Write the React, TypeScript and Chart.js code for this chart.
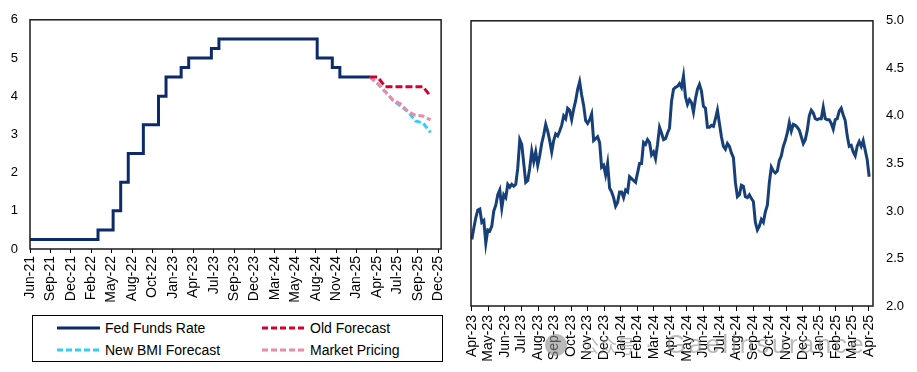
import React, { useEffect, useRef } from "react";
import { Chart, registerables } from "chart.js";

Chart.register(...registerables);

const FONT = '"Liberation Sans", Arial, Helvetica, sans-serif';

// ---------- Left chart data (x = months since Jun-21) ----------
const LEFT_TICK_LABELS = [
  "Jun-21", "Sep-21", "Dec-21", "Feb-22", "May-22", "Aug-22", "Oct-22",
  "Jan-23", "Apr-23", "Jul-23", "Sep-23", "Dec-23", "Mar-24", "May-24",
  "Aug-24", "Nov-24", "Jan-25", "Apr-25", "Jul-25", "Sep-25", "Dec-25",
];
const LEFT_SPAN_MONTHS = 54; // Jun-21 -> Dec-25

// Jun-21 .. Mar-25, monthly
const FED_FUNDS = [
  0.25, 0.25, 0.25, 0.25, 0.25, 0.25, 0.25, 0.25, 0.25,
  0.5, 0.5, 1.0, 1.75, 2.5, 2.5, 3.25, 3.25, 4.0, 4.5,
  4.5, 4.75, 5.0, 5.0, 5.0, 5.25,
  5.5, 5.5, 5.5, 5.5, 5.5, 5.5, 5.5, 5.5, 5.5, 5.5, 5.5, 5.5, 5.5,
  5.0, 5.0, 4.75, 4.5, 4.5, 4.5, 4.5, 4.5,
];
const FORECAST_START = 45; // Mar-25
const OLD_FORECAST = [4.5, 4.5, 4.25, 4.25, 4.25, 4.25, 4.25, 4.25, 4.0];
const NEW_BMI_FORECAST = [4.5, 4.33, 4.12, 3.9, 3.75, 3.6, 3.35, 3.3, 3.05];
const MARKET_PRICING = [4.5, 4.33, 4.12, 3.9, 3.8, 3.6, 3.5, 3.48, 3.38];

// ---------- Right chart data ----------
const RIGHT_TICK_LABELS = [
  "Apr-23", "May-23", "Jun-23", "Jul-23", "Aug-23", "Sep-23", "Oct-23",
  "Nov-23", "Dec-23", "Jan-24", "Feb-24", "Mar-24", "Apr-24", "May-24",
  "Jun-24", "Jul-24", "Aug-24", "Sep-24", "Oct-24", "Nov-24", "Dec-24",
  "Jan-25", "Feb-25", "Mar-25", "Apr-25",
];
const POINTS_PER_MONTH = 8.285;
const YIELDS_2023 = [
  2.70, 2.82, 2.93, 3.01, 3.02, 2.88, 2.90, 2.66, 2.80, 2.79,
  2.84, 3.00, 3.06, 3.17, 3.22, 3.03, 3.17, 3.14, 3.28, 3.25,
  3.28, 3.26, 3.28, 3.45, 3.75, 3.70, 3.50, 3.30, 3.32, 3.45,
  3.63, 3.52, 3.62, 3.48, 3.58, 3.71, 3.80, 3.91, 3.84, 3.74,
  3.62, 3.74, 3.81, 3.79, 3.84, 3.90, 4.00, 3.97, 4.08, 4.06,
  3.96, 4.07, 4.16, 4.28, 4.36, 4.22, 4.11, 3.95, 3.92, 3.96,
  4.02, 3.74, 3.76, 3.78, 3.72, 3.46, 3.48, 3.38, 3.50, 3.24,
  3.20, 3.14, 3.05, 3.09, 3.20,
];
const YIELDS_2024 = [
  3.20, 3.14, 3.22, 3.20, 3.36, 3.34, 3.32, 3.30, 3.40, 3.50,
  3.50, 3.72, 3.70, 3.75, 3.72, 3.59, 3.62, 3.55, 3.70, 3.88,
  3.82, 3.75, 3.76, 3.82, 3.87, 4.15, 4.28, 4.30, 4.31, 4.34,
  4.30, 4.42, 4.20, 4.12, 4.17, 4.14, 4.04, 4.18, 4.28, 4.33,
  4.26, 4.10, 4.08, 3.88, 3.88, 3.90, 3.89, 3.97, 4.06, 3.92,
  3.78, 3.68, 3.65, 3.71, 3.68, 3.61, 3.56, 3.30, 3.15, 3.17,
  3.27, 3.26, 3.15, 3.14, 3.17, 3.13, 3.10, 2.88, 2.80, 2.84,
  2.91, 2.88, 2.99, 3.06, 3.30, 3.46, 3.42, 3.40, 3.42, 3.53,
  3.58, 3.68, 3.74, 3.82, 3.93, 3.84, 3.91, 3.90, 3.88, 3.85,
  3.78, 3.71, 3.75, 3.85, 4.00, 4.06, 4.03, 3.97, 3.96, 3.97,
];
const YIELDS_2025 = [
  3.97, 4.09, 3.97, 3.96, 3.96, 3.92, 3.86, 3.96, 3.97, 4.05,
  4.08, 4.01, 3.95, 3.79, 3.68, 3.69, 3.62, 3.58, 3.68, 3.73,
  3.68, 3.74, 3.64, 3.54, 3.36,
];
const YIELDS = [...YIELDS_2023, ...YIELDS_2024, ...YIELDS_2025];

const FED_COLOR = "#0d2b6b";
const OLD_COLOR = "#d4002e";
const BMI_COLOR = "#33ccff";
const MKT_COLOR = "#ee8aa4";
const YIELD_COLOR = "#173f78";

const framePlugin = {
  id: "frame",
  afterDraw(chart: any) {
    const { ctx, chartArea: a } = chart;
    ctx.save();
    ctx.strokeStyle = "#1a1a1a";
    ctx.lineWidth = 1.5;
    ctx.strokeRect(a.left, a.top, a.right - a.left, a.bottom - a.top);
    ctx.restore();
  },
};

function LeftChart() {
  const ref = useRef<HTMLCanvasElement | null>(null);
  useEffect(() => {
    if (!ref.current) return;
    const fed = FED_FUNDS.map((v, i) => ({ x: i, y: v }));
    const mk = (arr: number[]) => arr.map((v, i) => ({ x: FORECAST_START + i, y: v }));
    const chart = new Chart(ref.current, {
      type: "line",
      data: {
        datasets: [
          { label: "Fed Funds Rate", data: fed, borderColor: FED_COLOR, borderWidth: 3, stepped: "before", pointRadius: 0, order: 3 },
          { label: "New BMI Forecast", data: mk(NEW_BMI_FORECAST), borderColor: BMI_COLOR, borderWidth: 3, borderDash: [6, 3], pointRadius: 0, order: 2 },
          { label: "Market Pricing", data: mk(MARKET_PRICING), borderColor: MKT_COLOR, borderWidth: 3, borderDash: [6, 3], pointRadius: 0, order: 1 },
          { label: "Old Forecast", data: mk(OLD_FORECAST), borderColor: OLD_COLOR, borderWidth: 3, borderDash: [7, 3], pointRadius: 0, order: 0 },
        ],
      },
      options: {
        responsive: false,
        animation: false,
        layout: { padding: { top: 16, right: 13, left: 0, bottom: 0 } },
        plugins: { legend: { display: false }, tooltip: { enabled: false } },
        scales: {
          x: {
            type: "linear",
            min: 0,
            max: LEFT_SPAN_MONTHS + 0.4,
            afterBuildTicks: (scale: any) => {
              scale.ticks = LEFT_TICK_LABELS.map((_, i) => ({ value: (i * LEFT_SPAN_MONTHS) / (LEFT_TICK_LABELS.length - 1) }));
            },
            afterFit: (scale: any) => { scale.height = 56; },
            grid: { display: true, drawOnChartArea: false, drawTicks: true, tickLength: 4, color: "#000", lineWidth: 1 },
            border: { display: false },
            ticks: {
              autoSkip: false,
              minRotation: 90,
              maxRotation: 90,
              padding: 3,
              color: "#000",
              font: { family: FONT, size: 14 },
              callback: (_v: any, i: number) => LEFT_TICK_LABELS[i],
            },
          },
          y: {
            min: 0,
            max: 6,
            afterFit: (scale: any) => { scale.width = 30; },
            grid: { display: false, drawTicks: false },
            border: { display: false },
            ticks: { stepSize: 1, padding: 12, color: "#000", font: { family: FONT, size: 13 } },
          },
        },
      },
      plugins: [framePlugin],
    } as any);
    return () => chart.destroy();
  }, []);
  return <canvas ref={ref} width={458} height={305} style={{ position: "absolute", left: 0, top: 0 }} />;
}

function RightChart() {
  const ref = useRef<HTMLCanvasElement | null>(null);
  useEffect(() => {
    if (!ref.current) return;
    const pts = YIELDS.map((v, i) => ({ x: i / POINTS_PER_MONTH, y: v }));
    const chart = new Chart(ref.current, {
      type: "line",
      data: {
        datasets: [
          { label: "2Y", data: pts, borderColor: YIELD_COLOR, borderWidth: 3, pointRadius: 0, tension: 0 },
        ],
      },
      options: {
        responsive: false,
        animation: false,
        layout: { padding: { top: 16, right: 0, left: 13, bottom: 0 } },
        plugins: { legend: { display: false }, tooltip: { enabled: false } },
        scales: {
          x: {
            type: "linear",
            min: -0.05,
            max: 24.25,
            afterBuildTicks: (scale: any) => {
              scale.ticks = RIGHT_TICK_LABELS.map((_, i) => ({ value: i }));
            },
            afterFit: (scale: any) => { scale.height = 66; },
            grid: { display: true, drawOnChartArea: false, drawTicks: true, tickLength: 5, color: "#000", lineWidth: 1 },
            border: { display: false },
            ticks: {
              autoSkip: false,
              minRotation: 90,
              maxRotation: 90,
              padding: 4,
              color: "#000",
              font: { family: FONT, size: 14 },
              callback: (_v: any, i: number) => RIGHT_TICK_LABELS[i],
            },
          },
          y: {
            position: "right",
            min: 2,
            max: 5,
            afterFit: (scale: any) => { scale.width = 44; },
            grid: { display: false, drawTicks: false },
            border: { display: false },
            ticks: {
              stepSize: 0.5,
              padding: 13,
              color: "#000",
              font: { family: FONT, size: 13 },
              callback: (v: any) => Number(v).toFixed(1),
            },
          },
        },
      },
      plugins: [framePlugin],
    } as any);
    return () => chart.destroy();
  }, []);
  return <canvas ref={ref} width={459} height={372} style={{ position: "absolute", left: 458, top: 0 }} />;
}

function LegendLine({ color, dash }: { color: string; dash?: string }) {
  return (
    <svg width={43} height={6} style={{ position: "absolute", left: 0, top: -3 }}>
      <line x1={0} y1={3} x2={43} y2={3} stroke={color} strokeWidth={3} strokeDasharray={dash} />
    </svg>
  );
}

function LegendItem({ left, top, color, dash, label }: any) {
  return (
    <div style={{ position: "absolute", left, top }}>
      <LegendLine color={color} dash={dash} />
      <span style={{ position: "absolute", left: 48, top: -9, whiteSpace: "nowrap", fontSize: 14, lineHeight: "18px", color: "#000" }}>
        {label}
      </span>
    </div>
  );
}

export default function App() {
  return (
    <div style={{ position: "fixed", left: 0, top: 0, width: 917, height: 372, background: "#fff", overflow: "hidden", fontFamily: FONT }}>
      <LeftChart />
      <RightChart />
      <div style={{ position: "absolute", left: 32, top: 315, width: 411, height: 47, border: "1px solid #000", boxSizing: "border-box" }}>
        <LegendItem left={24} top={12} color={FED_COLOR} label="Fed Funds Rate" />
        <LegendItem left={229} top={12} color={OLD_COLOR} dash="6 3" label="Old Forecast" />
        <LegendItem left={24} top={34} color={BMI_COLOR} dash="6 3" label="New BMI Forecast" />
        <LegendItem left={229} top={34} color={MKT_COLOR} dash="6 3" label="Market Pricing" />
      </div>
      <div style={{ position: "absolute", left: 545, top: 330, pointerEvents: "none", color: "rgba(140,140,140,0.6)", whiteSpace: "nowrap", display: "flex", alignItems: "center" }}>
        <span style={{ display: "inline-block", width: 22, height: 22, borderRadius: 11, background: "rgba(140,140,140,0.6)", marginRight: 14 }} />
        <span style={{ fontSize: 18, fontFamily: '"Noto Sans CJK SC", sans-serif', marginRight: 10 }}>公众号</span>
        <span style={{ fontSize: 22, marginRight: 14 }}>·</span>
        <span style={{ fontSize: 25, letterSpacing: 3 }}>Gaelinsurance</span>
      </div>
    </div>
  );
}
